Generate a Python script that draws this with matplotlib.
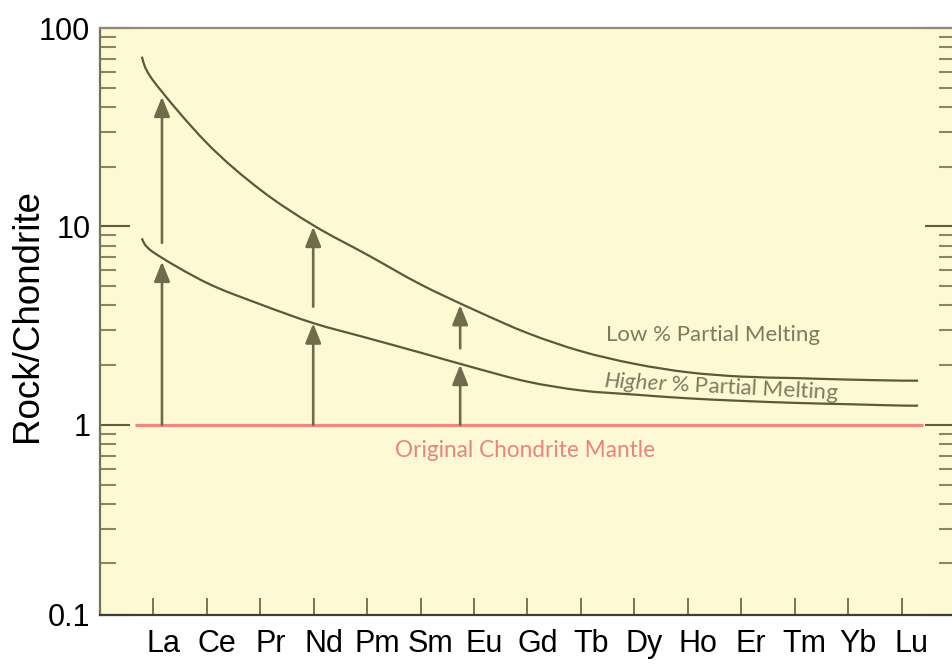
import matplotlib
matplotlib.use("Agg")
import numpy as np
import matplotlib.pyplot as plt
import matplotlib.transforms as mtransforms
from matplotlib.path import Path
from matplotlib.patches import PathPatch
from matplotlib.ticker import LogLocator, NullFormatter, FixedLocator, FixedFormatter

# ---------------- data ----------------
elements = ['La', 'Ce', 'Pr', 'Nd', 'Pm', 'Sm', 'Eu', 'Gd', 'Tb', 'Dy', 'Ho', 'Er', 'Tm', 'Yb', 'Lu']
element_pos = list(range(1, 16))

# curves (Rock/Chondrite) read at each element position, plus start/end points of drawn curves
curve_start_x = 0.78
curve_end_x = 15.31
low_melt_start = 71.7
low_melt = [54.1, 26.3, 15.3, 10.1, 7.2, 5.1, 3.8, 2.9, 2.35, 2.03, 1.84, 1.75, 1.72, 1.69, 1.67]
low_melt_end = 1.67
high_melt_start = 8.7
high_melt = [7.4, 5.19, 4.05, 3.25, 2.74, 2.31, 1.94, 1.65, 1.49, 1.42, 1.36, 1.32, 1.29, 1.27, 1.25]
high_melt_end = 1.25

chondrite_level = 1.0
chondrite_x_range = [0.655, 15.40]

# arrows: x, base value, tip value
arrow_x = [1.16, 1.16, 3.99, 3.99, 6.74, 6.74]
arrow_base = [1.0, 8.26, 1.0, 3.94, 1.0, 2.43]
arrow_tip = [6.65, 45.1, 3.25, 9.97, 2.01, 4.02]

y_limits = [0.11, 100]
y_ticks = [0.11, 1, 10, 100]
y_tick_labels = ['0.1', '1', '10', '100']

# ---------------- style ----------------
plt.rcParams['mathtext.fontset'] = 'custom'
plt.rcParams['mathtext.it'] = 'Lato:italic'
plt.rcParams['mathtext.rm'] = 'Lato'

bg = '#FDF9D3'
curve_col = '#5A5A3A'
arrow_col = '#6E6C4A'
label_col = '#7C7B5E'
red_col = '#F08A80'
red_text = '#E8857C'

fig = plt.figure(figsize=(9.53, 6.64), dpi=100)
W, H = 953, 664
ax = fig.add_axes([100 / W, (H - 615) / H, 855 / W, (615 - 28) / H])
ax.set_facecolor(bg)
ax.set_yscale('log')
ax.set_ylim(*y_limits)
ax.set_xlim(0, 16)


def smooth_curve(xv, yv, **kw):
    """Draw a smooth (Catmull-Rom) curve through the data points in display space."""
    pts = ax.transData.transform(np.column_stack([xv, yv]))
    n = len(pts)
    verts = [pts[0]]
    codes = [Path.MOVETO]
    for i in range(n - 1):
        p0 = pts[i - 1] if i > 0 else pts[i]
        p1 = pts[i]
        p2 = pts[i + 1]
        p3 = pts[i + 2] if i + 2 < n else pts[i + 1]
        c1 = p1 + (p2 - p0) / 6.0
        c2 = p2 - (p3 - p1) / 6.0
        verts += [c1, c2, p2]
        codes += [Path.CURVE4] * 3
    patch = PathPatch(Path(verts, codes), fill=False, transform=mtransforms.IdentityTransform(), **kw)
    ax.add_patch(patch)


xs = [curve_start_x] + element_pos + [curve_end_x]
smooth_curve(xs, [low_melt_start] + low_melt + [low_melt_end], edgecolor=curve_col, lw=1.6, capstyle='butt')
smooth_curve(xs, [high_melt_start] + high_melt + [high_melt_end], edgecolor=curve_col, lw=1.6, capstyle='butt')

# chondrite line
ax.hlines(chondrite_level, chondrite_x_range[0], chondrite_x_range[1], color=red_col, lw=2.3)

# arrows
for x, b, t in zip(arrow_x, arrow_base, arrow_tip):
    ax.annotate('', xy=(x, t), xytext=(x, b),
                arrowprops=dict(arrowstyle='-|>,head_length=0.8,head_width=0.32',
                                mutation_scale=15, color=arrow_col, lw=1.9,
                                shrinkA=0, shrinkB=0))

# texts
ax.text(9.47, 2.63, 'Low % Partial Melting', fontfamily='Lato', fontsize=16,
        color=label_col, ha='left', va='baseline')
ax.text(9.41, 1.55, r'$\mathit{Higher}$ % Partial Melting', fontfamily='Lato', fontsize=16,
        color=label_col, ha='left', va='baseline', rotation=-3.0, rotation_mode='anchor')
ax.text(5.52, 0.69, 'Original Chondrite Mantle', fontfamily='Lato', fontsize=16.3,
        color=red_text, ha='left', va='baseline')

# axes ticks
ax.xaxis.set_major_locator(FixedLocator(element_pos))
ax.xaxis.set_major_formatter(FixedFormatter(elements))
ax.yaxis.set_major_locator(FixedLocator(y_ticks))
ax.yaxis.set_major_formatter(FixedFormatter(y_tick_labels))
ax.yaxis.set_minor_locator(LogLocator(base=10, subs=[2, 3, 4, 5, 6, 7, 8, 9]))
ax.yaxis.set_minor_formatter(NullFormatter())

ax.tick_params(axis='x', which='major', direction='in', length=12, width=1.3,
               color='#6D6A4E', labelsize=22, pad=10, bottom=True, top=False)
ax.tick_params(axis='y', which='major', direction='in', length=21.5, width=1.5,
               color='#5E5B3E', labelsize=22, pad=7, left=True, right=True)
ax.tick_params(axis='y', which='minor', direction='in', length=11.5, width=1.5,
               color='#8A8660', left=True, right=True)
for lab in ax.get_xticklabels() + ax.get_yticklabels():
    lab.set_fontfamily('Liberation Sans')
offset = mtransforms.ScaledTranslation(10 / 100, 0, fig.dpi_scale_trans)
for lab in ax.get_xticklabels():
    lab.set_transform(lab.get_transform() + offset)

ax.spines['right'].set_visible(False)
ax.spines['left'].set_color('#77734F')
ax.spines['left'].set_linewidth(1.6)
ax.spines['top'].set_color('#8C8B78')
ax.spines['top'].set_linewidth(1.6)
ax.spines['bottom'].set_color('#3E3D33')
ax.spines['bottom'].set_linewidth(1.6)

fig.text(28 / W, 1 - 316 / H, 'Rock/Chondrite', rotation=90, ha='center', va='center',
         fontsize=26.5, fontfamily='Liberation Sans', color='black')

fig.savefig('out.png', dpi=100)
